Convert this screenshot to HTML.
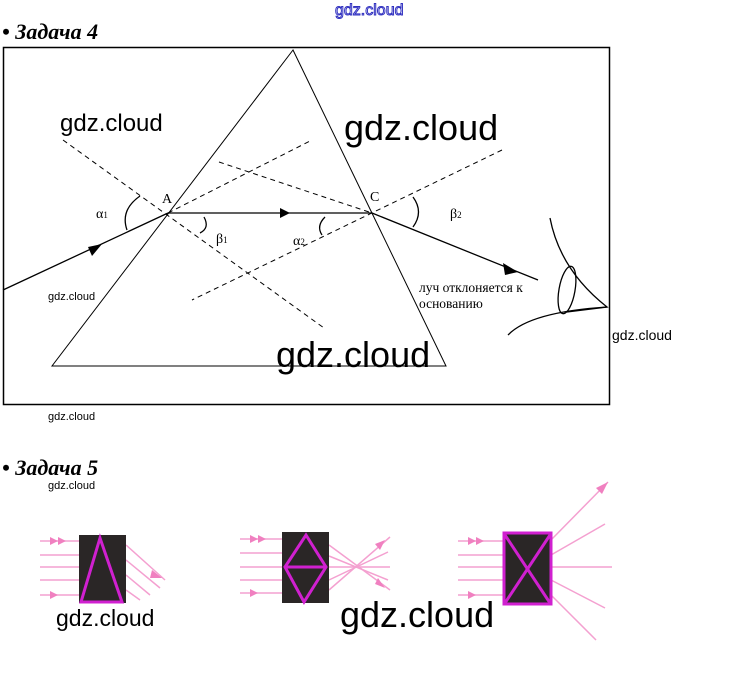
<!DOCTYPE html>
<html><head><meta charset="utf-8"><style>
body{margin:0;width:747px;height:688px;background:#fff;overflow:hidden;position:relative;font-family:"Liberation Sans",sans-serif}
.t{position:absolute;font-family:"Liberation Serif",serif;font-style:italic;font-weight:bold;font-size:22px;color:#000}
.w{position:absolute;font-family:"Liberation Sans",sans-serif;color:#000;white-space:nowrap}
</style></head><body>
<div class="w" style="left:335px;top:2px;font-size:16px;color:#fff;-webkit-text-stroke:1px #3030c0">gdz.cloud</div>
<div class="t" style="left:2px;top:19px">• Задача 4</div>
<div class="t" style="left:2px;top:455px">• Задача 5</div>
<svg width="747" height="688" style="position:absolute;left:0;top:0" font-family="Liberation Serif,serif">
<rect x="3.5" y="47.5" width="606" height="357" fill="none" stroke="#000" stroke-width="1.5"/>
<polygon points="293,50 52,366 446,366" fill="none" stroke="#000"/>
<g stroke="#000" stroke-dasharray="5,4" fill="none">
<line x1="63" y1="140" x2="324" y2="328"/>
<line x1="168" y1="213" x2="312" y2="140"/>
<line x1="219" y1="162" x2="372" y2="213"/>
<line x1="502" y1="150" x2="192" y2="300"/>
</g>
<g stroke="#000" fill="none" stroke-width="1.3">
<line x1="3" y1="290" x2="168" y2="213"/>
<line x1="168" y1="213" x2="372" y2="213"/>
<line x1="372" y1="213" x2="538" y2="280"/>
<path d="M140,196 Q120,210 127,230"/>
<path d="M204,217 Q210,228 200,233"/>
<path d="M325,217 Q316,226 322,235"/>
<path d="M413,197 Q424,212 413,227"/>
<path d="M550,218 Q560,270 607,307 L567,312"/>
<path d="M508,335 Q530,312 607,307"/>
<ellipse cx="567" cy="290" rx="8" ry="24" transform="rotate(10 567 290)"/>
</g>
<polygon points="102,244 88,247 92,256" fill="#000"/>
<polygon points="290,213 280,208 280,218" fill="#000"/>
<polygon points="518,272 503,263 505,275" fill="#000"/>
<g font-size="14">
<text x="162" y="203">A</text><text x="370" y="201">C</text>
<text x="96" y="218">α<tspan font-size="9">1</tspan></text>
<text x="216" y="243">β<tspan font-size="9">1</tspan></text>
<text x="293" y="245">α<tspan font-size="9">2</tspan></text>
<text x="450" y="218">β<tspan font-size="9">2</tspan></text>
<text x="419" y="292" font-size="13.5">луч отклоняется к</text>
<text x="419" y="308" font-size="13.5">основанию</text>
</g>
<g stroke="#f4a0d0" stroke-width="1.5" fill="#f080c0">
<line x1="40" y1="541" x2="79" y2="541"/><line x1="40" y1="555" x2="79" y2="555"/><line x1="40" y1="567" x2="79" y2="567"/><line x1="40" y1="580" x2="79" y2="580"/><line x1="40" y1="595" x2="79" y2="595"/>
<line x1="126" y1="545" x2="165" y2="580"/><line x1="126" y1="560" x2="160" y2="588"/><line x1="126" y1="575" x2="150" y2="595"/><line x1="126" y1="590" x2="140" y2="600"/>
<line x1="240" y1="539" x2="282" y2="539"/><line x1="240" y1="553" x2="282" y2="553"/><line x1="240" y1="567" x2="282" y2="567"/><line x1="240" y1="580" x2="282" y2="580"/><line x1="240" y1="593" x2="282" y2="593"/>
<line x1="329" y1="545" x2="390" y2="590"/><line x1="329" y1="590" x2="390" y2="537"/><line x1="329" y1="567" x2="390" y2="567"/><line x1="329" y1="556" x2="388" y2="580"/><line x1="329" y1="580" x2="388" y2="552"/>
<line x1="458" y1="541" x2="504" y2="541"/><line x1="458" y1="555" x2="504" y2="555"/><line x1="458" y1="567" x2="504" y2="567"/><line x1="458" y1="580" x2="504" y2="580"/><line x1="458" y1="595" x2="504" y2="595"/>
<line x1="551" y1="540" x2="608" y2="482"/><line x1="551" y1="555" x2="605" y2="524"/><line x1="551" y1="567" x2="612" y2="567"/><line x1="551" y1="580" x2="605" y2="608"/><line x1="551" y1="595" x2="596" y2="640"/>
<polygon points="58,541 50,537 50,545" stroke="none"/><polygon points="66,541 58,537 58,545" stroke="none"/><polygon points="58,595 50,591 50,599" stroke="none"/>
<polygon points="258,539 250,535 250,543" stroke="none"/><polygon points="266,539 258,535 258,543" stroke="none"/><polygon points="258,593 250,589 250,597" stroke="none"/>
<polygon points="476,541 468,537 468,545" stroke="none"/><polygon points="484,541 476,537 476,545" stroke="none"/><polygon points="476,595 468,591 468,599" stroke="none"/>
<polygon points="608,482 596,488 602,494" stroke="none"/><polygon points="162,578 152,570 150,578" stroke="none"/><polygon points="385,540 375,544 380,550" stroke="none"/><polygon points="385,588 375,584 378,578" stroke="none"/>
</g>
<rect x="79" y="535" width="47" height="68" fill="#2a2626"/>
<rect x="282" y="532" width="47" height="71" fill="#2a2626"/>
<rect x="504" y="533" width="47" height="71" fill="#2a2626" stroke="#d020d0" stroke-width="3"/>
<g stroke="#d020d0" stroke-width="3" fill="none">
<polygon points="100,538 81,602 122,602"/>
<polygon points="306,535 326,567 304,602 285,567"/><line x1="285" y1="567" x2="326" y2="567"/>
<line x1="505" y1="535" x2="550" y2="603"/><line x1="550" y1="535" x2="505" y2="603"/>
</g>
</svg>
<div class="w" style="left:60px;top:110px;font-size:24px">gdz.cloud</div>
<div class="w" style="left:344px;top:107px;font-size:36px">gdz.cloud</div>
<div class="w" style="left:276px;top:334px;font-size:36px">gdz.cloud</div>
<div class="w" style="left:48px;top:291px;font-size:11px">gdz.cloud</div>
<div class="w" style="left:612px;top:327px;font-size:14px">gdz.cloud</div>
<div class="w" style="left:48px;top:411px;font-size:11px">gdz.cloud</div>
<div class="w" style="left:48px;top:480px;font-size:11px">gdz.cloud</div>
<div class="w" style="left:56px;top:605px;font-size:23px">gdz.cloud</div>
<div class="w" style="left:340px;top:594px;font-size:36px">gdz.cloud</div>
</body></html>
